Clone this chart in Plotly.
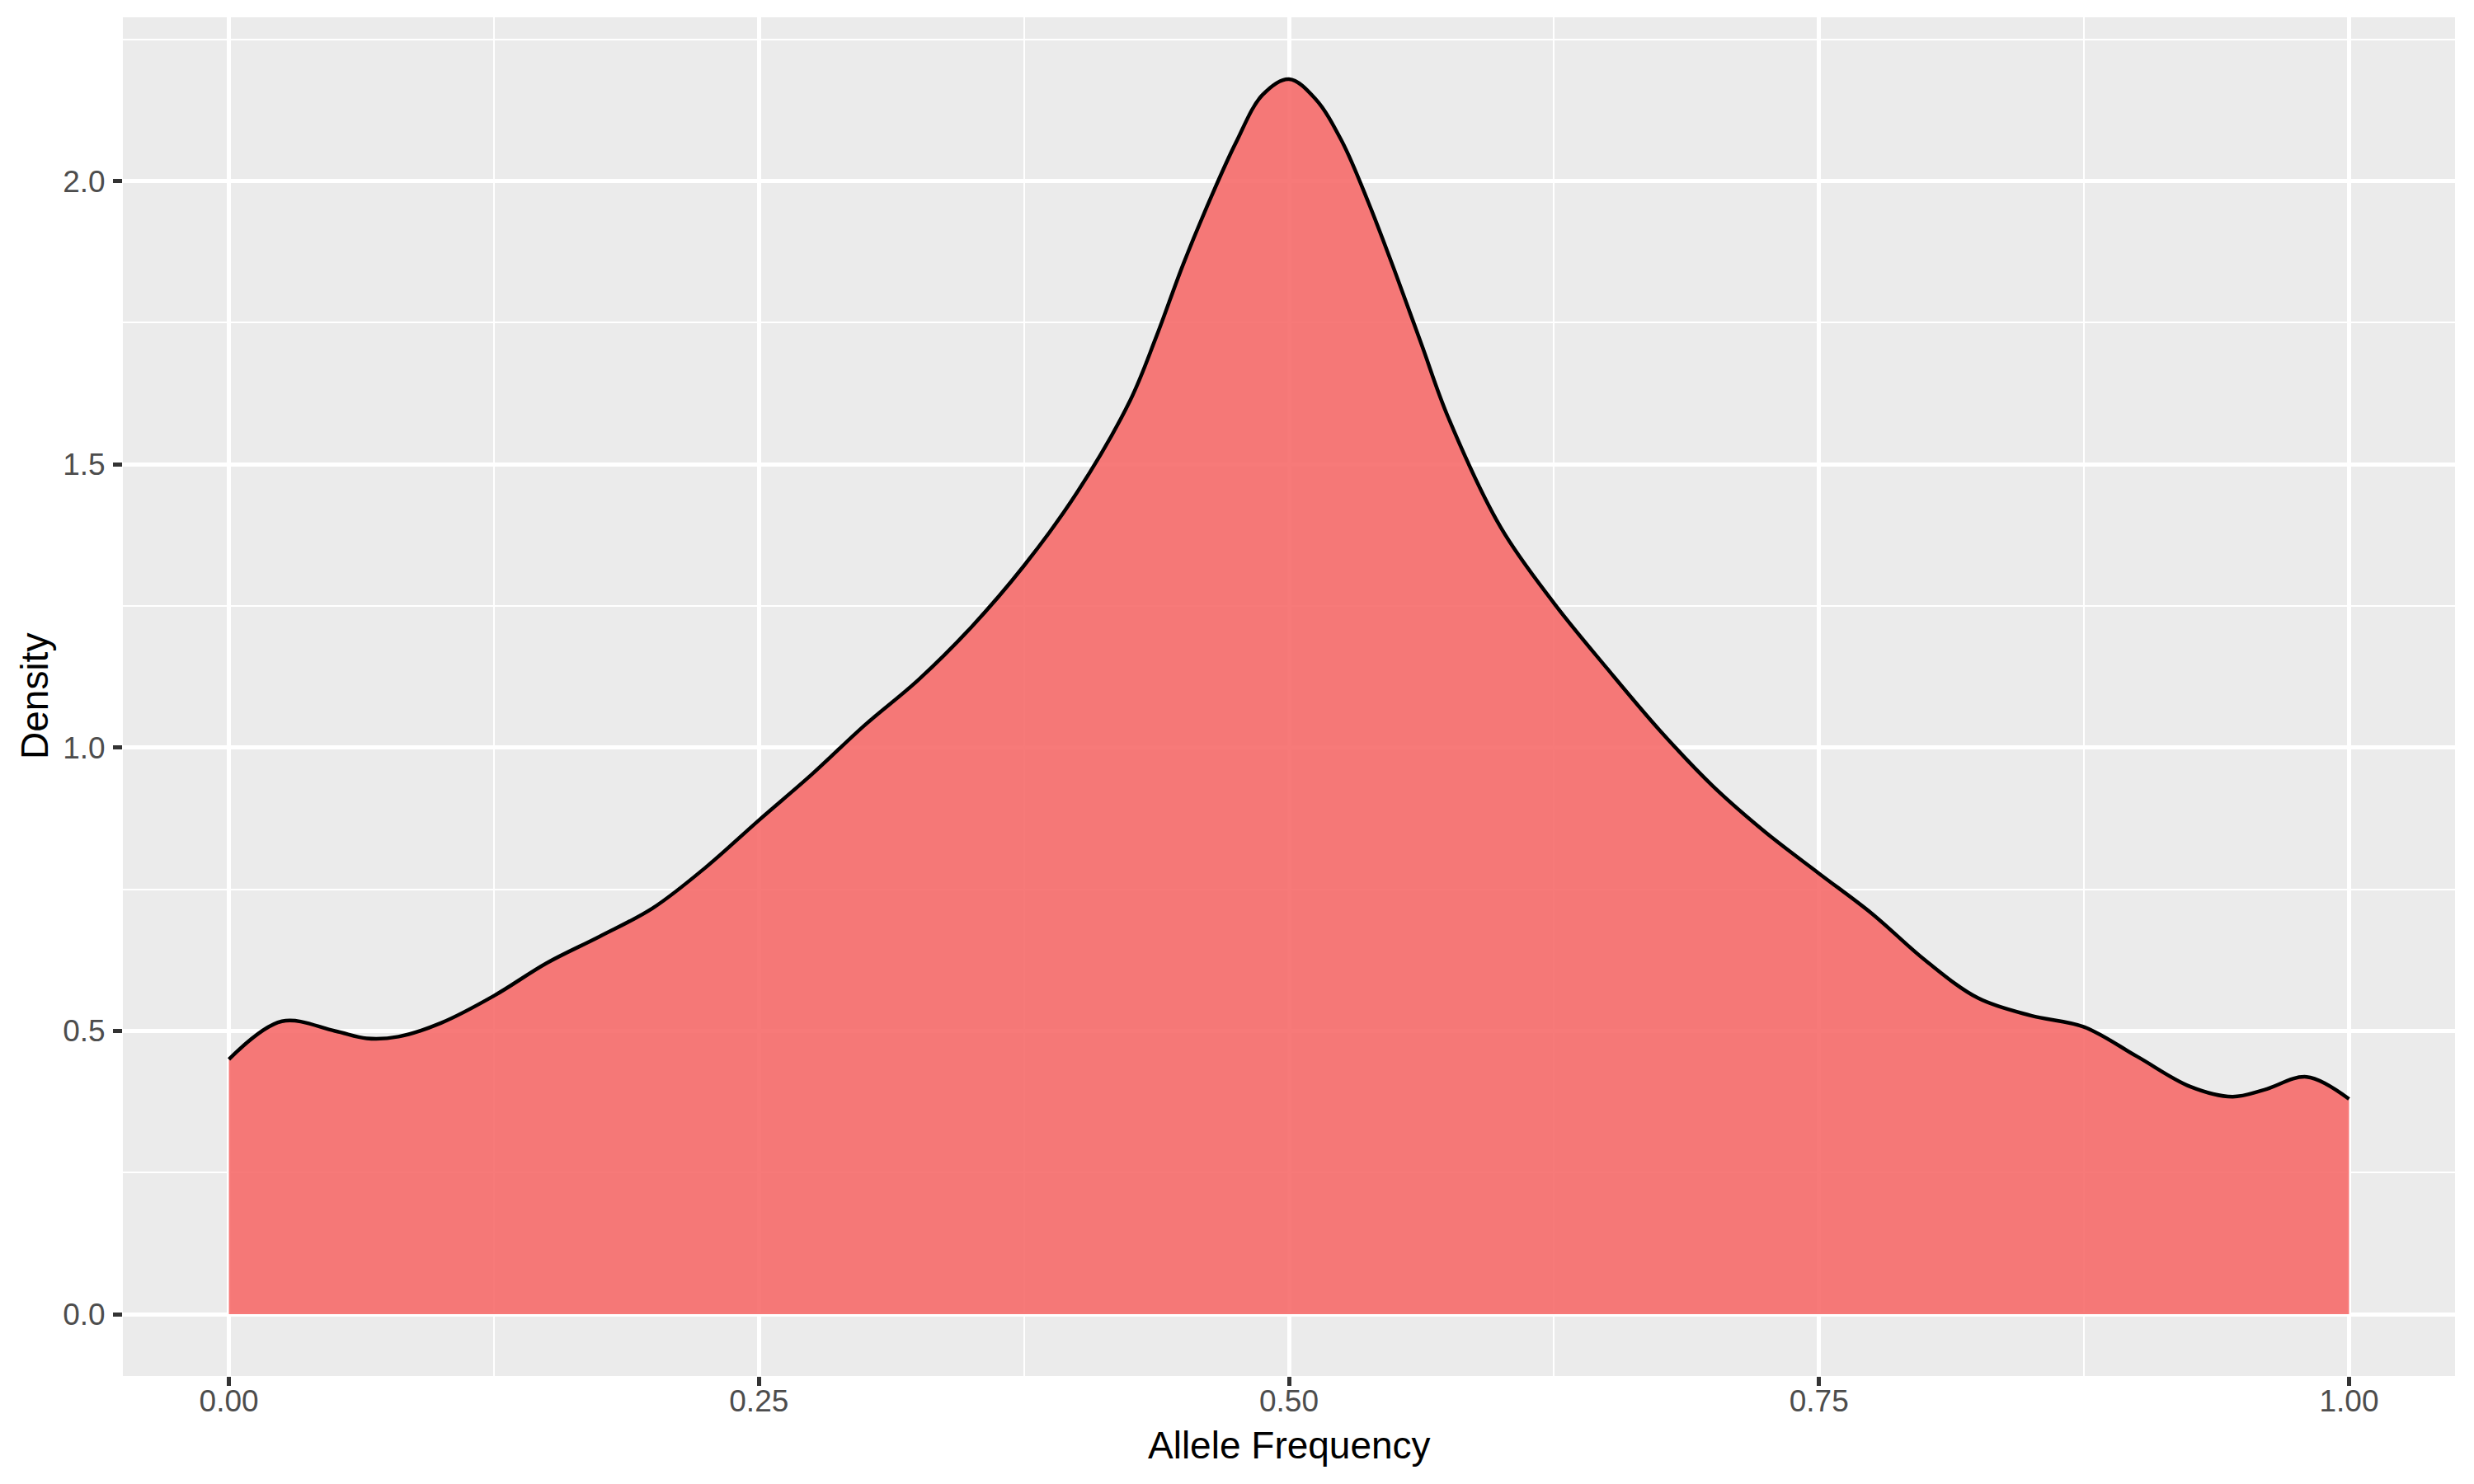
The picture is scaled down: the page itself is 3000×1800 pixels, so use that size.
import plotly.graph_objects as go

# density curve (allele frequency vs density)
allele_freq = [0.000, 0.025, 0.050, 0.065, 0.080, 0.100, 0.125, 0.150, 0.175, 0.200,
               0.225, 0.250, 0.275, 0.300, 0.325, 0.350, 0.375, 0.400, 0.425, 0.4375,
               0.450, 0.4625, 0.475, 0.4875, 0.500, 0.5125, 0.525, 0.5375, 0.550, 0.5625,
               0.575, 0.600, 0.625, 0.650, 0.675, 0.700, 0.725, 0.750, 0.775, 0.800,
               0.825, 0.850, 0.875, 0.900, 0.925, 0.945, 0.960, 0.980, 1.000]
density = [0.450, 0.517, 0.500, 0.487, 0.490, 0.514, 0.562, 0.620, 0.667, 0.717,
           0.789, 0.872, 0.953, 1.040, 1.119, 1.212, 1.321, 1.450, 1.612, 1.726,
           1.852, 1.965, 2.068, 2.152, 2.180, 2.145, 2.070, 1.962, 1.840, 1.712,
           1.584, 1.388, 1.255, 1.140, 1.030, 0.932, 0.850, 0.778, 0.707, 0.625,
           0.558, 0.527, 0.507, 0.455, 0.402, 0.384, 0.396, 0.419, 0.380]

x_ticks = [0.0, 0.25, 0.5, 0.75, 1.0]
y_ticks = [0.0, 0.5, 1.0, 1.5, 2.0]

font = "Liberation Sans, Arial, sans-serif"

fig = go.Figure()
fig.add_trace(go.Scatter(
    x=allele_freq, y=density, mode="lines",
    line=dict(color="black", width=4.5, shape="spline", smoothing=1.0),
    fill="tozeroy", fillcolor="rgba(246,108,106,0.9)",
    showlegend=False, hoverinfo="skip"))

axis_common = dict(
    showgrid=True, gridcolor="white", gridwidth=4.5,
    zeroline=False, showline=False,
    ticks="outside", ticklen=11, tickwidth=4.5, tickcolor="#333333",
    tickfont=dict(family=font, size=37, color="#4D4D4D"),
)

fig.update_xaxes(
    range=[-0.05, 1.05], tickvals=x_ticks, tickformat=".2f",
    ticklabelstandoff=-13,
    minor=dict(dtick=0.125, tick0=0.125, showgrid=True, gridcolor="white", gridwidth=2.3, ticks=""),
    **axis_common)
fig.update_yaxes(
    range=[-0.109, 2.289], tickvals=y_ticks, tickformat=".1f",
    ticklabelstandoff=2,
    minor=dict(dtick=0.25, tick0=0.25, showgrid=True, gridcolor="white", gridwidth=2.3, ticks=""),
    **axis_common)

# axis titles placed as in ggplot
fig.add_annotation(text="Allele Frequency", xref="paper", yref="paper", x=0.5, y=0,
                   yanchor="middle", yshift=-84, showarrow=False,
                   font=dict(family=font, size=46, color="black"))
fig.add_annotation(text="Density", xref="paper", yref="paper", x=0, y=0.5,
                   xanchor="center", xshift=-107, textangle=-90, showarrow=False,
                   font=dict(family=font, size=46, color="black"))

# page body has an 8px margin, so shift the margins to keep the panel in place
fig.update_layout(
    width=3000, height=1800,
    margin=dict(l=141, r=31, t=13, b=139),
    plot_bgcolor="#EBEBEB", paper_bgcolor="white",
)

fig.write_html("out.html")
